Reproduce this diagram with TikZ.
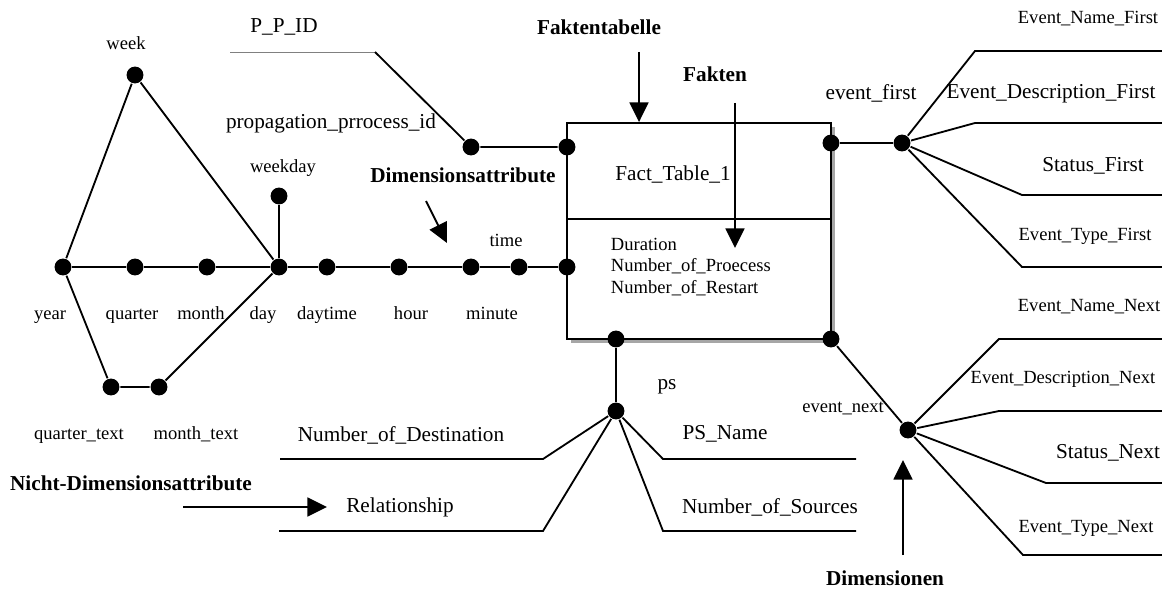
\documentclass[tikz,border=0pt]{standalone}
\usepackage{fontspec}
\setmainfont{Liberation Serif}
\usetikzlibrary{arrows.meta}

\begin{document}
\begin{tikzpicture}[x=0.025cm, y=-0.025cm, line width=1.3pt,
    dot/.style={circle, fill, inner sep=0pt, minimum size=12pt},
    small/.style={font=\fontsize{13.2}{15}\selectfont, inner sep=0pt},
    large/.style={font=\fontsize{15.1}{17}\selectfont, inner sep=0pt},
    hint/.style={font=\fontsize{15.1}{17}\selectfont\bfseries, inner sep=0pt},
    pointer/.style={-{Triangle[length=14pt, width=13.5pt]}}]

    \useasboundingbox (0,0) rectangle (1162,590);

    % Fact table
    \fill[gray!70] (571,127) rectangle (835,343);
    \node[draw, fill=white, minimum width=6.6cm, minimum height=5.4cm, inner sep=0pt] (fact) at (699,231) {};
    \draw (fact.west |- 0,219) -- (fact.east |- 0,219);
    \node[large] (facttitle) at (673,175) {Fact\_Table\_1};
    \node[small, anchor=west, align=left] (measures) at (610,267) {Duration\\Number\_of\_Proecess\\Number\_of\_Restart};

    % Ports of the fact table
    \node[dot] (tp) at (567,147) {};
    \node[dot] (tt) at (567,267) {};
    \node[dot] (tf) at (831,143) {};
    \node[dot] (tn) at (831,339) {};
    \node[dot] (tps) at (616,339) {};

    % Time dimension
    \node[dot] (year) at (63,267) {};
    \node[dot] (quarter) at (135,267) {};
    \node[dot] (month) at (207,267) {};
    \node[dot] (day) at (279,267) {};
    \node[dot] (daytime) at (327,267) {};
    \node[dot] (hour) at (399,267) {};
    \node[dot] (minute) at (471,267) {};
    \node[dot] (time) at (519,267) {};
    \node[dot] (week) at (135,75) {};
    \node[dot] (weekday) at (279,196) {};
    \node[dot] (qtext) at (111,387) {};
    \node[dot] (mtext) at (159,387) {};

    \draw (year) -- (quarter) -- (month) -- (day) -- (daytime) -- (hour) -- (minute) -- (time) -- (tt);
    \draw (year) -- (week) -- (day);
    \draw (day) -- (weekday);
    \draw (year) -- (qtext) -- (mtext) -- (day);

    \node[small, anchor=base] (lyear) at (50,319) {year};
    \node[small, anchor=base] (lquarter) at (132,319) {quarter};
    \node[small, anchor=base] (lmonth) at (201,319) {month};
    \node[small, anchor=base] (lday) at (263,319) {day};
    \node[small, anchor=base] (ldaytime) at (327,319) {daytime};
    \node[small, anchor=base] (lhour) at (411,319) {hour};
    \node[small, anchor=base] (lminute) at (492,319) {minute};
    \node[small] (lweek) at (126,43) {week};
    \node[small] (lweekday) at (283,168) {weekday};
    \node[small] (ltime) at (506,240) {time};
    \node[small, anchor=base] (lqtext) at (79,439) {quarter\_text};
    \node[small, anchor=base] (lmtext) at (196,439) {month\_text};

    % Propagation process
    \node[dot] (ppid) at (471,147) {};
    \coordinate (ppidend) at (230,52);
    \coordinate (ppidbend) at (375,52);
    \draw[gray, line width=0.5pt] (ppidend) -- (ppidbend);
    \draw (ppidbend) -- (ppid) -- (tp);
    \node[large] (lppid) at (284,27) {P\_P\_ID};
    \node[large] (lprop) at (331,123) {propagation\_prrocess\_id};

    % Event first
    \node[dot] (evf) at (902,143) {};
    \draw (tf) -- (evf);
    \foreach \bx/\by [count=\i] in {975/51, 975/123, 1022/195, 1022/267} {
        \coordinate (evf\i) at (1162,\by);
        \draw (evf) -- (\bx,\by) -- (evf\i);
    }
    \node[large] (levf) at (871,93) {event\_first};
    \node[small] (levfname) at (1088,19) {Event\_Name\_First};
    \node[large] (levfdesc) at (1051,94) {Event\_Description\_First};
    \node[large] (levfstat) at (1093,166) {Status\_First};
    \node[small] (levftype) at (1085,236) {Event\_Type\_First};

    % Event next
    \node[dot] (evn) at (908,430) {};
    \draw (tn) -- (evn);
    \foreach \bx/\by [count=\i] in {999/339, 999/411, 1046/483, 1023/555} {
        \coordinate (evn\i) at (1162,\by);
        \draw (evn) -- (\bx,\by) -- (evn\i);
    }
    \node[small] (levn) at (843,408) {event\_next};
    \node[small] (levnname) at (1089,307) {Event\_Name\_Next};
    \node[small] (levndesc) at (1063,379) {Event\_Description\_Next};
    \node[large] (levnstat) at (1108,453) {Status\_Next};
    \node[small] (levntype) at (1086,528) {Event\_Type\_Next};

    % Propagation step
    \node[dot] (ps) at (616,411) {};
    \draw (tps) -- (ps);
    \coordinate (psdest) at (280,459);
    \coordinate (psrel) at (279,531);
    \coordinate (psname) at (856,459);
    \coordinate (pssrc) at (856,531);
    \draw (ps) -- (543,459) -- (psdest);
    \draw (ps) -- (543,531) -- (psrel);
    \draw (ps) -- (663,459) -- (psname);
    \draw (ps) -- (663,531) -- (pssrc);
    \node[large] (lps) at (667,387) {ps};
    \node[large] (lpsdest) at (401,435) {Number\_of\_Destination};
    \node[large] (lpsrel) at (400,507) {Relationship};
    \node[large] (lpsname) at (725,434) {PS\_Name};
    \node[large] (lpssrc) at (770,507) {Number\_of\_Sources};

    % Annotations
    \node[hint] (hfaktab) at (599,27) {Faktentabelle};
    \coordinate (faktabtail) at (639,52);
    \draw[pointer] (faktabtail) -- (faktabtail |- fact.north);

    \node[hint] (hfakten) at (715,74) {Fakten};
    \coordinate (faktentail) at (735,103);
    \coordinate (faktentip) at (735,248);
    \draw[pointer] (faktentail) -- (faktentip);

    \node[hint] (hdimattr) at (463,175) {Dimensionsattribute};
    \coordinate (dimattrtail) at (426,201);
    \coordinate (dimattrtip) at (447,243);
    \draw[pointer] (dimattrtail) -- (dimattrtip);

    \node[hint] (hnondim) at (131,483) {Nicht-Dimensionsattribute};
    \coordinate (nondimtail) at (183,507);
    \coordinate (nondimtip) at (327,507);
    \draw[pointer] (nondimtail) -- (nondimtip);

    \node[hint] (hdim) at (885,578) {Dimensionen};
    \coordinate (dimtail) at (903,555);
    \coordinate (dimtip) at (903,460);
    \draw[pointer] (dimtail) -- (dimtip);
\end{tikzpicture}
\end{document}
